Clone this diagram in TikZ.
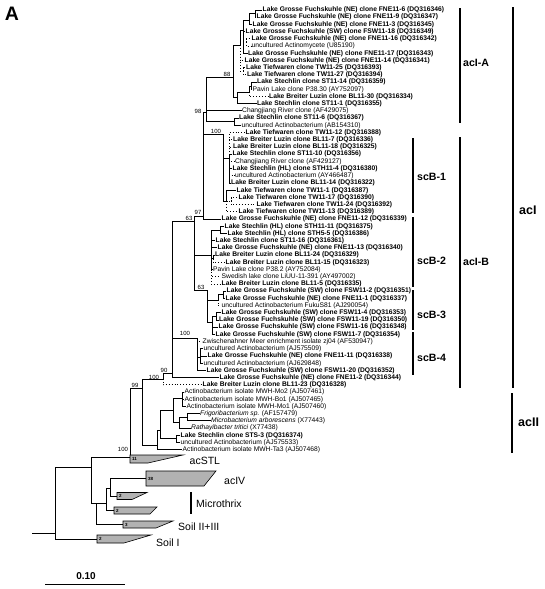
\documentclass[tikz,border=0pt]{standalone}
\usepackage{fontspec}
\setmainfont{Liberation Sans}
\begin{document}
\begin{tikzpicture}[x=1pt,y=-1pt,
  br/.style={line width=0.9pt},
  dbr/.style={line width=0.9pt,dotted},
  bl/.style={anchor=west,inner sep=0.5pt,font=\fontsize{6.7}{7}\selectfont\bfseries},
  nl/.style={anchor=west,inner sep=0.5pt,font=\fontsize{6.7}{7}\selectfont},
  bs/.style={inner sep=0pt,font=\fontsize{6}{6}\selectfont},
  grp/.style={anchor=west,inner sep=0pt,font=\fontsize{10.6}{11}\selectfont\bfseries},
  biggrp/.style={anchor=west,inner sep=0pt,font=\fontsize{12.5}{13}\selectfont\bfseries},
  clab/.style={anchor=west,inner sep=0pt,font=\fontsize{10.5}{11}\selectfont},
  gbar/.style={line width=1.2pt},
  wedge/.style={fill=gray!60,draw=black,line width=0.6pt},
  wn/.style={anchor=west,inner sep=0.3pt,font=\fontsize{4.5}{5}\selectfont\bfseries}]
\useasboundingbox (0,0) rectangle (544,589);

\node[inner sep=0pt,font=\fontsize{19.5}{20}\selectfont\bfseries] (panel) at (12,14) {A};

% ---------------- leaves ----------------
\node[bl] (l1) at (262,10.0) {Lake Grosse Fuchskuhle (NE) clone FNE11-6 (DQ316346)};
\node[bl] (l2) at (256,17.2) {Lake Grosse Fuchskuhle (NE) clone FNE11-9 (DQ316347)};
\node[bl] (l3) at (252,24.4) {Lake Grosse Fuchskuhle (NE) clone FNE11-3 (DQ316345)};
\node[bl] (l4) at (245,31.6) {Lake Grosse Fuchskuhle (SW) clone FSW11-18 (DQ316349)};
\node[bl] (l5) at (251,38.8) {Lake Grosse Fuchskuhle (NE) clone FNE11-16 (DQ316342)};
\node[nl] (l6) at (251,46.1) {uncultured Actinomycete (U85190)};
\node[bl] (l7) at (247.5,53.3) {Lake Grosse Fuchskuhle (NE) clone FNE11-17 (DQ316343)};
\node[bl] (l8) at (244,60.5) {Lake Grosse Fuchskuhle (NE) clone FNE11-14 (DQ316341)};
\node[bl] (l9) at (245.5,67.7) {Lake Tiefwaren clone TW11-25 (DQ316393)};
\node[bl] (l10) at (246.5,74.9) {Lake Tiefwaren clone TW11-27 (DQ316394)};
\node[bl] (l11) at (256.5,82.1) {Lake Stechlin clone ST11-14 (DQ316359)};
\node[nl] (l12) at (252,89.3) {Pavin Lake clone P38.30 (AY752097)};
\node[bl] (l13) at (268.5,96.5) {Lake Breiter Luzin clone BL11-30 (DQ316334)};
\node[bl] (l14) at (256.5,103.7) {Lake Stechlin clone ST11-1 (DQ316355)};
\node[nl] (l15) at (241.5,110.9) {Changjiang River clone (AF429075)};
\node[bl] (l16) at (238.5,118.2) {Lake Stechlin clone ST11-6 (DQ316367)};
\node[nl] (l17) at (241,125.4) {uncultured Actinobacterium (AB154310)};
\node[bl] (l18) at (245,132.6) {Lake Tiefwaren clone TW11-12 (DQ316388)};
\node[bl] (l19) at (232.5,139.8) {Lake Breiter Luzin clone BL11-7 (DQ316336)};
\node[bl] (l20) at (232.5,147.0) {Lake Breiter Luzin clone BL11-18 (DQ316325)};
\node[bl] (l21) at (232,154.2) {Lake Stechlin clone ST11-10 (DQ316356)};
\node[nl] (l22) at (234.5,161.4) {Changjiang River clone (AF429127)};
\node[bl] (l23) at (232,168.6) {Lake Stechlin (HL) clone STH11-4 (DQ316380)};
\node[nl] (l24) at (234.5,175.8) {uncultured Actinobacterium (AY466487)};
\node[bl] (l25) at (230.5,183.0) {Lake Breiter Luzin clone BL11-14 (DQ316322)};
\node[bl] (l26) at (236,190.3) {Lake Tiefwaren clone TW11-1 (DQ316387)};
\node[bl] (l27) at (238,197.5) {Lake Tiefwaren clone TW11-17 (DQ316390)};
\node[bl] (l28) at (256,204.7) {Lake Tiefwaren clone TW11-24 (DQ316392)};
\node[bl] (l29) at (238,211.9) {Lake Tiefwaren clone TW11-13 (DQ316389)};
\node[bl] (l30) at (221,219.1) {Lake Grosse Fuchskuhle (NE) clone FNE11-12 (DQ316339)};
\node[bl] (l31) at (224,226.3) {Lake Stechlin (HL) clone STH11-11 (DQ316375)};
\node[bl] (l32) at (227,233.5) {Lake Stechlin (HL) clone STH5-5 (DQ316386)};
\node[bl] (l33) at (215,240.7) {Lake Stechlin clone ST11-16 (DQ316361)};
\node[bl] (l34) at (217,247.9) {Lake Grosse Fuchskuhle (NE) clone FNE11-13 (DQ316340)};
\node[bl] (l35) at (214.5,255.1) {Lake Breiter Luzin clone BL11-24 (DQ316329)};
\node[bl] (l36) at (225,262.3) {Lake Breiter Luzin clone BL11-15 (DQ316323)};
\node[nl] (l37) at (212.5,269.6) {Pavin Lake clone P38.2 (AY752084)};
\node[nl] (l38) at (221,276.8) {Swedish lake clone LiUU-11-391 (AY497002)};
\node[bl] (l39) at (221,284.0) {Lake Breiter Luzin clone BL11-5 (DQ316335)};
\node[bl] (l40) at (226,291.2) {Lake Grosse Fuchskuhle (SW) clone FSW11-2 (DQ316351)};
\node[bl] (l41) at (225,298.4) {Lake Grosse Fuchskuhle (NE) clone FNE11-1 (DQ316337)};
\node[nl] (l42) at (221,305.6) {uncultured Actinobacterium FukuS81 (AJ290054)};
\node[bl] (l43) at (221,312.8) {Lake Grosse Fuchskuhle (SW) clone FSW11-4 (DQ316353)};
\node[bl] (l44) at (218.5,320.0) {Lake Grosse Fuchskuhle (SW) clone FSW11-19 (DQ316350)};
\node[bl] (l45) at (218,327.2) {Lake Grosse Fuchskuhle (SW) clone FSW11-16 (DQ316348)};
\node[bl] (l46) at (215,334.4) {Lake Grosse Fuchskuhle (SW) clone FSW11-7 (DQ316354)};
\node[nl] (l47) at (202,341.7) {Zwischenahner Meer enrichment isolate zj04 (AF530947)};
\node[nl] (l48) at (203,348.9) {uncultured Actinobacterium (AJ575509)};
\node[bl] (l49) at (207,356.1) {Lake Grosse Fuchskuhle (NE) clone FNE11-11 (DQ316338)};
\node[nl] (l50) at (203,363.3) {uncultured Actinobacterium (AJ629848)};
\node[bl] (l51) at (206,370.5) {Lake Grosse Fuchskuhle (SW) clone FSW11-20 (DQ316352)};
\node[bl] (l52) at (219,377.7) {Lake Grosse Fuchskuhle (NE) clone FNE11-2 (DQ316344)};
\node[bl] (l53) at (202,384.9) {Lake Breiter Luzin clone BL11-23 (DQ316328)};
\node[nl] (l54) at (184,392.1) {Actinobacterium isolate MWH-Mo2 (AJ507461)};
\node[nl] (l55) at (184,399.3) {Actinobacterium isolate MWH-Bo1 (AJ507465)};
\node[nl] (l56) at (186,406.5) {Actinobacterium isolate MWH-Mo1 (AJ507460)};
\node[nl] (l57) at (199.5,413.7) {\textit{Frigoribacterium sp.} (AF157479)};
\node[nl] (l58) at (210.5,420.9) {\textit{Microbacterium arborescens} (X77443)};
\node[nl] (l59) at (190.5,428.2) {\textit{Rathayibacter tritici} (X77438)};
\node[bl] (l60) at (180,435.4) {Lake Stechlin clone STS-3 (DQ316374)};
\node[nl] (l61) at (180,442.6) {uncultured Actinobacterium (AJ575533)};
\node[nl] (l62) at (182,449.8) {Actinobacterium isolate MWH-Ta3 (AJ507468)};

% ---------------- internal nodes ----------------
\coordinate (a1) at (255,13.6);
\coordinate (a2) at (249,20);
\coordinate (a3) at (243,30);
\coordinate (a4) at (246,42);
\coordinate (a5) at (240,45);
\coordinate (a6) at (243.5,71);
\coordinate (s1) at (251,86);
\coordinate (s2) at (249,92);
\coordinate (s3) at (237,97);
\coordinate (n88) at (233,77);
\coordinate (nst6) at (234,121.5);
\coordinate (n98) at (206,112);
\coordinate (n100a) at (223,134);
\coordinate (b1) at (229,158);
\coordinate (b2) at (226.5,201);
\coordinate (b3) at (231,201);
\coordinate (n97) at (203,216);
\coordinate (sc2) at (211,255);
\coordinate (c1) at (220,230);
\coordinate (c2) at (213,258.7);
\coordinate (n63b) at (207,290);
\coordinate (d1) at (218,300);
\coordinate (d1a) at (223,294.8);
\coordinate (d2) at (212,322);
\coordinate (d3) at (216.5,316.4);
\coordinate (n63a) at (194,221);
\coordinate (n100c) at (197,338);
\coordinate (c3) at (200,357);
\coordinate (nacI) at (172,373);
\coordinate (n90) at (163,379);
\coordinate (e1) at (182,398);
\coordinate (e2) at (187,417);
\coordinate (e3) at (179,422);
\coordinate (e4) at (173,410);
\coordinate (e6) at (176,438);
\coordinate (e5) at (160,430);
\coordinate (e7) at (157,445);
\coordinate (n99) at (142,388);
\coordinate (n100d) at (130,457);
\coordinate (nA) at (91,467);
\coordinate (nB) at (96,503);
\coordinate (nC) at (106,503);
\coordinate (nD) at (110,488);
\coordinate (r1) at (55,533);
\coordinate (r0) at (32,533);
\coordinate (wstl) at (130,459);
\coordinate (wIV) at (146,478.5);
\coordinate (wm1) at (117,496);
\coordinate (wm2) at (114,510.5);
\coordinate (w23) at (123,524.5);
\coordinate (wI) at (97,539);

% ---------------- branches ----------------
\draw[br] (a1) |- (l1.west);
\draw[br] (a1) |- (l2.west);
\draw[br] (a2) |- (a1);
\draw[br] (a2) |- (l3.west);
\draw[br] (a3) |- (a2);
\draw[br] (a3) |- (l4.west);
\draw[dbr] (a3) |- (a4);
\draw[br] (a3) |- (l7.west);
\draw[dbr] (a4) |- (l5.west);
\draw[dbr] (a4) |- (l6.west);
\draw[br] (a5) |- (a3);
\draw[dbr] (a5) |- (l8.west);
\draw[dbr] (a5) |- (a6);
\draw[dbr] (a6) |- (l9.west);
\draw[dbr] (a6) |- (l10.west);
\draw[br] (s1) |- (l11.west);
\draw[br] (s1) |- (l12.west);
\draw[br] (s2) |- (s1);
\draw[dbr] (s2) |- (l13.west);
\draw[br] (s3) |- (s2);
\draw[br] (s3) |- (l14.west);
\draw[br] (n88) |- (a5);
\draw[br] (n88) |- (s3);
\draw[br] (nst6) |- (l16.west);
\draw[br] (nst6) |- (l17.west);
\draw[br] (n98) |- (n88);
\draw[br] (n98) |- (l15.west);
\draw[br] (n98) |- (nst6);
\draw[dbr] (b1) |- (l18.west);
\draw[dbr] (b1) |- (l19.west);
\draw[dbr] (b1) |- (l20.west);
\draw[br] (b1) |- (l21.west);
\draw[dbr] (b1) |- (l22.west);
\draw[br] (b1) |- (l23.west);
\draw[dbr] (b1) |- (l24.west);
\draw[br] (b1) |- (l25.west);
\draw[dbr] (b3) |- (l27.west);
\draw[dbr] (b3) |- (l28.west);
\draw[br] (b2) |- (l26.west);
\draw[dbr] (b2) |- (b3);
\draw[dbr] (b2) |- (l29.west);
\draw[br] (n100a) |- (b1);
\draw[br] (n100a) |- (b2);
\draw[br] (n97) |- (n98);
\draw[br] (n97) |- (n100a);
\draw[br] (n97) |- (l30.west);
\draw[br] (c1) |- (l31.west);
\draw[br] (c1) |- (l32.west);
\draw[br] (c2) |- (l35.west);
\draw[dbr] (c2) |- (l36.west);
\draw[br] (sc2) |- (c1);
\draw[br] (sc2) |- (l33.west);
\draw[br] (sc2) |- (l34.west);
\draw[br] (sc2) |- (c2);
\draw[br] (sc2) |- (l37.west);
\draw[dbr] (sc2) |- (l38.west);
\draw[dbr] (sc2) |- (l39.west);
\draw[br] (d1a) |- (l40.west);
\draw[br] (d1a) |- (l41.west);
\draw[br] (d1) |- (d1a);
\draw[dbr] (d1) |- (l42.west);
\draw[br] (d3) |- (l43.west);
\draw[br] (d3) |- (l44.west);
\draw[br] (d2) |- (d3);
\draw[br] (d2) |- (l45.west);
\draw[br] (d2) |- (l46.west);
\draw[br] (n63b) |- (d1);
\draw[br] (n63b) |- (d2);
\draw[br] (n63a) |- (n97);
\draw[br] (n63a) |- (sc2);
\draw[br] (n63a) |- (n63b);
\draw[br] (c3) |- (l48.west);
\draw[br] (c3) |- (l49.west);
\draw[br] (c3) |- (l50.west);
\draw[dbr] (n100c) |- (l47.west);
\draw[br] (n100c) |- (c3);
\draw[br] (n100c) |- (l51.west);
\draw[br] (nacI) |- (n63a);
\draw[br] (nacI) |- (n100c);
\draw[br] (nacI) |- (l52.west);
\draw[br] (n90) |- (nacI);
\draw[dbr] (n90) |- (l53.west);
\draw[br] (e1) |- (l54.west);
\draw[br] (e1) |- (l55.west);
\draw[br] (e1) |- (l56.west);
\draw[br] (e2) |- (l57.west);
\draw[br] (e2) |- (l58.west);
\draw[br] (e3) |- (e2);
\draw[br] (e3) |- (l59.west);
\draw[br] (e4) |- (e1);
\draw[br] (e4) |- (e3);
\draw[br] (e6) |- (l60.west);
\draw[br] (e6) |- (l61.west);
\draw[br] (e5) |- (e4);
\draw[br] (e5) |- (e6);
\draw[br] (e7) |- (e5);
\draw[br] (e7) |- (l62.west);
\draw[br] (n99) |- (n90);
\draw[br] (n99) |- (e7);
\draw[br] (n100d) |- (n99);
\draw[br] (n100d) |- (wstl);
\draw[br] (nD) |- (wIV);
\draw[br] (nD) |- (wm1);
\draw[br] (nC) |- (nD);
\draw[br] (nC) |- (wm2);
\draw[br] (nB) |- (nC);
\draw[br] (nB) |- (w23);
\draw[br] (nA) |- (n100d);
\draw[br] (nA) |- (nB);
\draw[br] (r1) |- (nA);
\draw[br] (r1) |- (wI);
\draw[br] (r0) -- (r1);

% ---------------- collapsed groups ----------------
\draw[wedge] (130,455) -- (183,455) -- (148,463) -- (130,463) -- cycle;
\draw[wedge] (146,471) -- (216,471) -- (204,486) -- (146,486) -- cycle;
\draw[wedge] (117,492.5) -- (147,492.5) -- (132,499.5) -- (117,499.5) -- cycle;
\draw[wedge] (114,507) -- (157,507) -- (150,514) -- (114,514) -- cycle;
\draw[wedge] (123,521) -- (173,521) -- (156,528) -- (123,528) -- cycle;
\draw[wedge] (97,535) -- (151,535) -- (124,543) -- (97,543) -- cycle;
\node[wn] (nstl) at (131.5,459) {11};
\node[wn] (nIV) at (147.5,478.5) {38};
\node[wn] (nm1) at (118.5,496) {2};
\node[wn] (nm2) at (115.5,510.5) {2};
\node[wn] (n23) at (124.5,524.5) {3};
\node[wn] (nI) at (98.5,539) {2};

\node[clab] (tstl) at (189.5,461) {acSTL};
\node[clab] (tIV) at (224,481) {acIV};
\draw[gbar] (191,492) -- (191,514);
\node[clab] (tmic) at (196,504) {Microthrix};
\node[clab] (t23) at (178,527) {Soil II+III};
\node[clab] (tI) at (156,543) {Soil I};

% ---------------- bootstrap values ----------------
\node[bs] (bs1) at (227,74) {88};
\node[bs] (bs2) at (198,111) {98};
\node[bs] (bs3) at (216,131) {100};
\node[bs] (bs4) at (198,212) {97};
\node[bs] (bs5) at (189,218) {63};
\node[bs] (bs6) at (201,287) {63};
\node[bs] (bs7) at (185,333) {100};
\node[bs] (bs8) at (164,370) {90};
\node[bs] (bs9) at (154,377) {100};
\node[bs] (bs10) at (135,385) {99};
\node[bs] (bs11) at (123,449) {100};

% ---------------- group bars ----------------
\draw[gbar] (460,8) -- (460,123);
\node[grp] (gA) at (463,63) {acI-A};
\draw[gbar] (460,137) -- (460,388);
\node[grp] (gB) at (463,262) {acI-B};
\draw[gbar] (413,138) -- (413,213);
\node[grp] (g1) at (417,177) {scB-1};
\draw[gbar] (413,217) -- (413,287);
\node[grp] (g2) at (417,261) {scB-2};
\draw[gbar] (413,290) -- (413,330);
\node[grp] (g3) at (417,315) {scB-3};
\draw[gbar] (413,332) -- (413,375);
\node[grp] (g4) at (417,358) {scB-4};
\draw[gbar] (513,7) -- (513,388);
\node[biggrp] (gI) at (519,210) {acI};
\draw[gbar] (512,393) -- (512,453);
\node[biggrp] (gII) at (518,422) {acII};

% ---------------- scale bar ----------------
\coordinate (sb1) at (45,584);
\coordinate (sb2) at (125,584);
\draw[line width=1pt] (sb1) -- (sb2);
\node[inner sep=0pt,font=\fontsize{10}{10}\selectfont\bfseries] (sbl) at (86,576) {0.10};
\end{tikzpicture}
\end{document}
